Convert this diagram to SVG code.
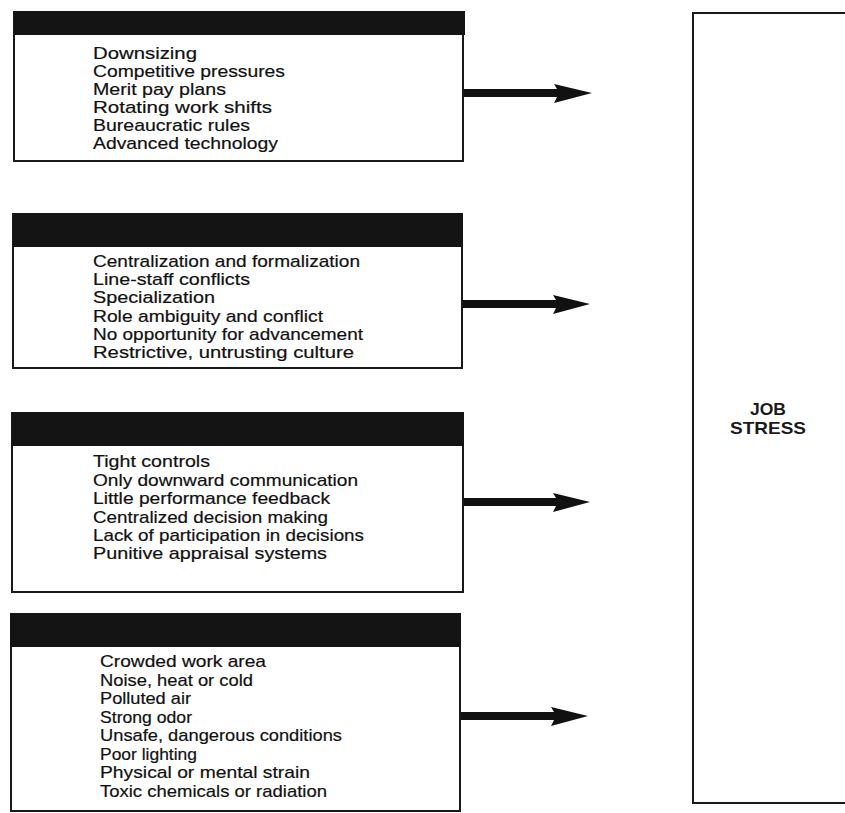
<svg xmlns="http://www.w3.org/2000/svg" width="845" height="813" viewBox="0 0 845 813">
<defs>
<style>
.frame{fill:#fff;stroke:#1a1a1a;stroke-width:2}
.hdr{fill:#141414}
.item{font-family:"Liberation Sans",Arial,sans-serif;font-size:17px;fill:#111;stroke:#111;stroke-width:0.2}
.big{font-family:"Liberation Sans",Arial,sans-serif;font-size:17px;font-weight:bold;fill:#1a1a1a;text-anchor:middle}
.arr{fill:#111}
</style>
</defs>
<rect width="845" height="813" fill="#fff"/>
<g id="box1">
<rect class="frame" x="14" y="12" width="449" height="149"/>
<rect class="hdr" x="14" y="11" width="451" height="24"/>
<text class="item" x="93" y="59" textLength="104" lengthAdjust="spacingAndGlyphs">Downsizing</text>
<text class="item" x="93" y="77" textLength="192" lengthAdjust="spacingAndGlyphs">Competitive pressures</text>
<text class="item" x="93" y="95" textLength="133" lengthAdjust="spacingAndGlyphs">Merit pay plans</text>
<text class="item" x="93" y="113" textLength="179" lengthAdjust="spacingAndGlyphs">Rotating work shifts</text>
<text class="item" x="93" y="131" textLength="157" lengthAdjust="spacingAndGlyphs">Bureaucratic rules</text>
<text class="item" x="93" y="149" textLength="185" lengthAdjust="spacingAndGlyphs">Advanced technology</text>
</g>
<g id="box2">
<rect class="frame" x="13" y="214" width="449" height="154"/>
<rect class="hdr" x="13" y="213" width="450" height="34"/>
<text class="item" x="93" y="267" textLength="267" lengthAdjust="spacingAndGlyphs">Centralization and formalization</text>
<text class="item" x="93" y="285" textLength="157" lengthAdjust="spacingAndGlyphs">Line-staff conflicts</text>
<text class="item" x="93" y="303" textLength="122" lengthAdjust="spacingAndGlyphs">Specialization</text>
<text class="item" x="93" y="322" textLength="230" lengthAdjust="spacingAndGlyphs">Role ambiguity and conflict</text>
<text class="item" x="93" y="340" textLength="270" lengthAdjust="spacingAndGlyphs">No opportunity for advancement</text>
<text class="item" x="93" y="358" textLength="261" lengthAdjust="spacingAndGlyphs">Restrictive, untrusting culture</text>
</g>
<g id="box3">
<rect class="frame" x="12" y="413" width="451" height="179"/>
<rect class="hdr" x="12" y="412" width="452" height="34"/>
<text class="item" x="93" y="467" textLength="117" lengthAdjust="spacingAndGlyphs">Tight controls</text>
<text class="item" x="93" y="486" textLength="265" lengthAdjust="spacingAndGlyphs">Only downward communication</text>
<text class="item" x="93" y="504" textLength="237" lengthAdjust="spacingAndGlyphs">Little performance feedback</text>
<text class="item" x="93" y="523" textLength="235" lengthAdjust="spacingAndGlyphs">Centralized decision making</text>
<text class="item" x="93" y="541" textLength="271" lengthAdjust="spacingAndGlyphs">Lack of participation in decisions</text>
<text class="item" x="93" y="559" textLength="234" lengthAdjust="spacingAndGlyphs">Punitive appraisal systems</text>
</g>
<g id="box4">
<rect class="frame" x="11" y="614" width="449" height="197"/>
<rect class="hdr" x="10" y="613" width="451" height="34"/>
<text class="item" x="100" y="667" textLength="166" lengthAdjust="spacingAndGlyphs">Crowded work area</text>
<text class="item" x="100" y="686" textLength="153" lengthAdjust="spacingAndGlyphs">Noise, heat or cold</text>
<text class="item" x="100" y="704" textLength="91" lengthAdjust="spacingAndGlyphs">Polluted air</text>
<text class="item" x="100" y="723" textLength="92" lengthAdjust="spacingAndGlyphs">Strong odor</text>
<text class="item" x="100" y="741" textLength="242" lengthAdjust="spacingAndGlyphs">Unsafe, dangerous conditions</text>
<text class="item" x="100" y="760" textLength="97" lengthAdjust="spacingAndGlyphs">Poor lighting</text>
<text class="item" x="100" y="778" textLength="210" lengthAdjust="spacingAndGlyphs">Physical or mental strain</text>
<text class="item" x="100" y="797" textLength="227" lengthAdjust="spacingAndGlyphs">Toxic chemicals or radiation</text>
</g>
<g id="jobstress">
<rect class="frame" x="693" y="13" width="170" height="790"/>
<text class="big" x="768" y="415" textLength="36" lengthAdjust="spacingAndGlyphs">JOB</text>
<text class="big" x="768" y="434" textLength="76" lengthAdjust="spacingAndGlyphs">STRESS</text>
</g>
<g id="connectors">
<polygon class="arr" points="464,89 557,89 554,84 592,93 554,103 557,97 464,97"/>
<polygon class="arr" points="463,300 556,300 553,295 590,304 553,314 556,308 463,308"/>
<polygon class="arr" points="464,498 556,498 553,493 590,502 553,512 556,506 464,506"/>
<polygon class="arr" points="461,712 554,712 551,707 588,716 551,726 554,720 461,720"/>
</g>
</svg>
